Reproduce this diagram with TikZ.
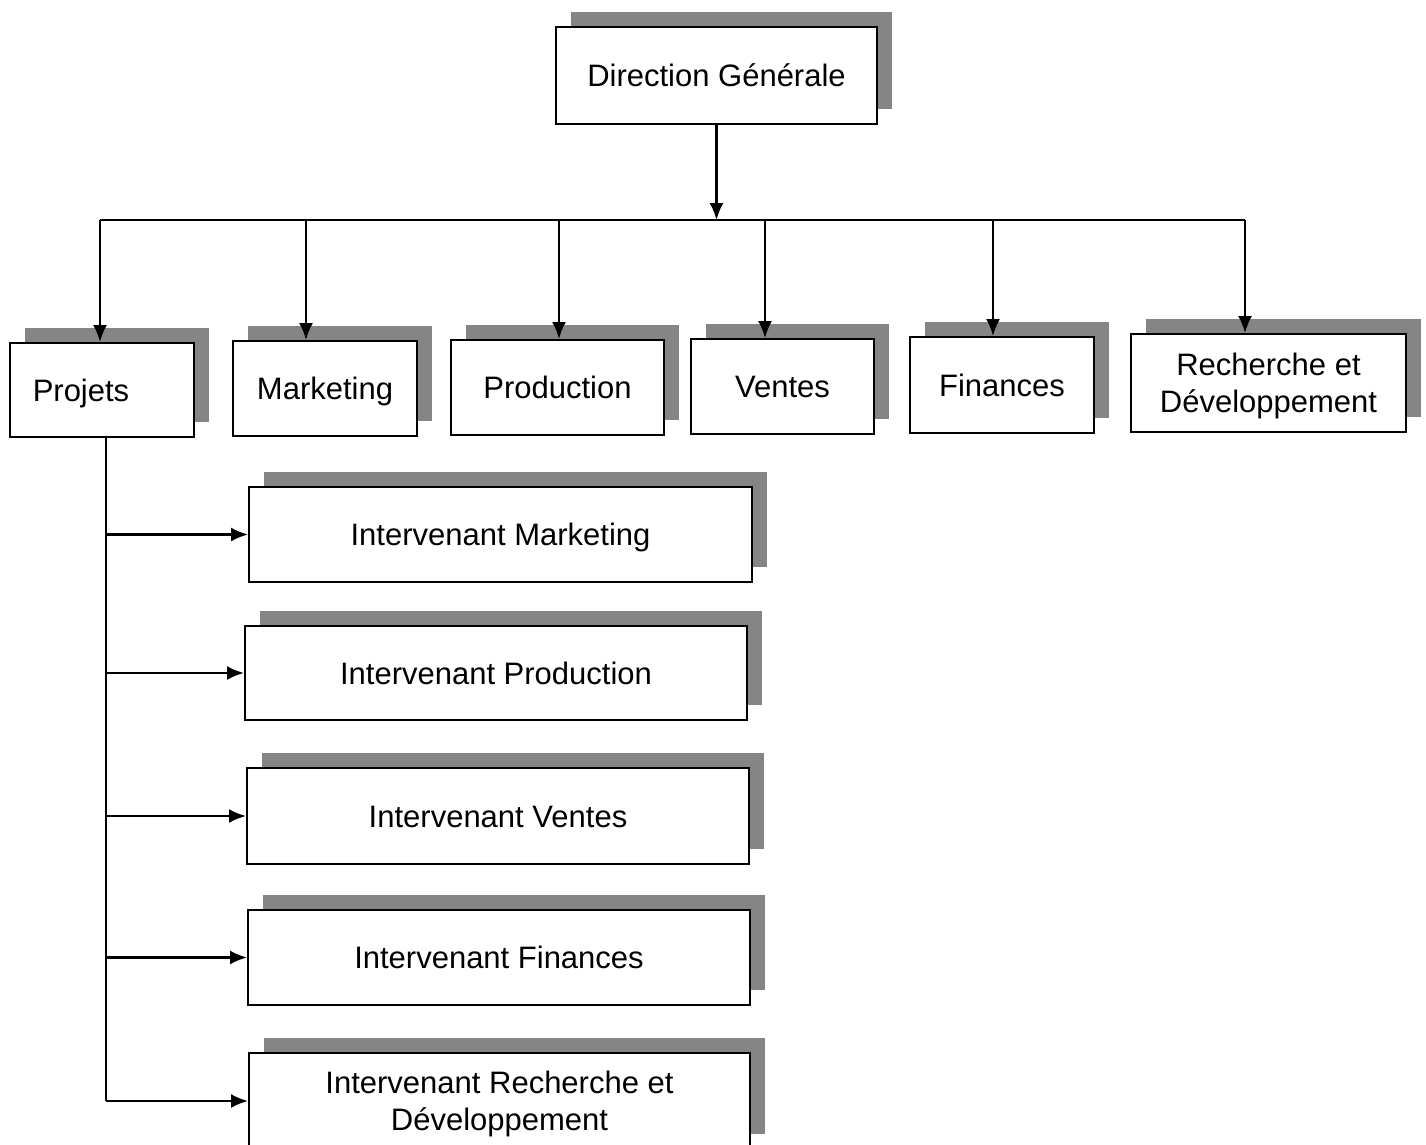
\documentclass[tikz,border=0pt]{standalone}
\usepackage{fontspec}
\setmainfont{Liberation Sans}
\usetikzlibrary{shadows,arrows.meta}
\begin{document}
\begin{tikzpicture}[x=1pt,y=-1pt,
  box/.style={draw, line width=2pt, fill=white, inner sep=0pt, align=center,
    font=\fontsize{31}{37}\selectfont,
    general shadow={fill=black!48, shadow xshift=15pt, shadow yshift=15pt}},
  one/.style={text height=22pt, text depth=0pt},
  two/.style={text depth=0pt},
  line/.style={line width=2.2pt},
  conn/.style={line width=2.2pt, -{Latex[length=17pt,width=14pt]}}]
\useasboundingbox (0,0) rectangle (1426,1145);
\clip (0,0) rectangle (1426,1145);
\fill[white] (0,0) rectangle (1426,1145);

\node[box, one, minimum width=321pt, minimum height=97pt] (dg) at (716.5,75.5) {Direction Générale};

\node[box, one, minimum width=184pt, minimum height=94pt] (proj) at (102,390) {Projets\hspace*{42pt}};
\node[box, one, minimum width=184pt, minimum height=95pt] (mkt) at (325,388.5) {Marketing};
\node[box, one, minimum width=213pt, minimum height=95pt] (prod) at (557.5,387.5) {Production};
\node[box, one, minimum width=183pt, minimum height=95pt] (vent) at (782.5,386.5) {Ventes};
\node[box, one, minimum width=184pt, minimum height=96pt] (fin) at (1002,385) {Finances};
\node[box, two, minimum width=275pt, minimum height=98pt] (rd) at (1268.5,383) {Recherche et\\Développement};

\node[box, one, minimum width=503pt, minimum height=95pt] (im) at (500.5,534.5) {Intervenant Marketing};
\node[box, one, minimum width=502pt, minimum height=94pt] (ip) at (496,673) {Intervenant Production};
\node[box, one, minimum width=502pt, minimum height=96pt] (iv) at (498,816) {Intervenant Ventes};
\node[box, one, minimum width=502pt, minimum height=95pt] (if) at (499,957.5) {Intervenant Finances};
\node[box, two, minimum width=501pt, minimum height=96pt] (ird) at (499.5,1101) {Intervenant Recherche et\\Développement};

% bus
\coordinate (bus) at (717,220);
\coordinate (b1) at (100,220);
\coordinate (b2) at (306,220);
\coordinate (b3) at (559,220);
\coordinate (b4) at (765,220);
\coordinate (b5) at (993,220);
\coordinate (b6) at (1245,220);
\draw[conn] (dg.south) -- (dg.south |- bus);
\draw[line] (b1) -- (b6);
\draw[conn] (b1) -- (b1 |- proj.north);
\draw[conn] (b2) -- (b2 |- mkt.north);
\draw[conn] (b3) -- (b3 |- prod.north);
\draw[conn] (b4) -- (b4 |- vent.north);
\draw[conn] (b5) -- (b5 |- fin.north);
\draw[conn] (b6) -- (b6 |- rd.north);

% trunk from Projets
\coordinate (tr) at (106,0);
\draw[line] (tr |- proj.south) -- (tr |- ird.west);
\draw[conn] (tr |- im.west) -- (im.west);
\draw[conn] (tr |- ip.west) -- (ip.west);
\draw[conn] (tr |- iv.west) -- (iv.west);
\draw[conn] (tr |- if.west) -- (if.west);
\draw[conn] (tr |- ird.west) -- (ird.west);
\end{tikzpicture}
\end{document}
